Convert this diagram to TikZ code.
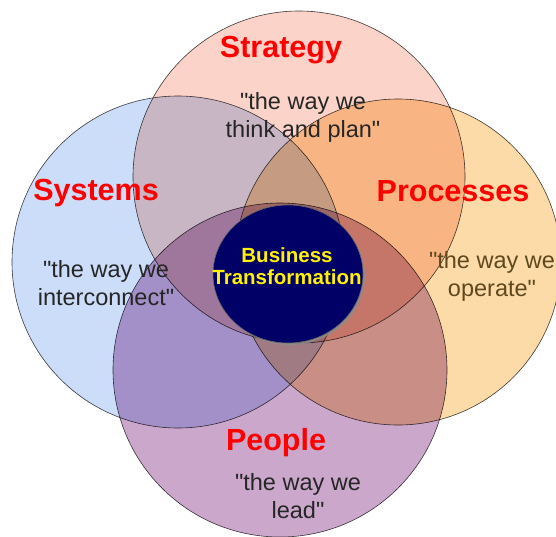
\documentclass[tikz,border=0pt]{standalone}
\usepackage{fontspec}
\setmainfont{Liberation Sans}
\usetikzlibrary{shapes.geometric,shadows}
\definecolor{strategyfill}{RGB}{251,211,200}
\definecolor{systemsfill}{RGB}{204,221,250}
\definecolor{processfill}{RGB}{252,219,168}
\definecolor{peoplefill}{RGB}{204,167,204}
\definecolor{corefill}{RGB}{0,0,102}
\definecolor{operbrown}{RGB}{95,72,30}
\newcommand{\qt}{\textquotedbl} % straight double quote
\tikzset{
    ring/.style={circle, draw=black!75, line width=0.6pt, inner sep=0pt}, % the four big circles
    heading/.style={text=red, anchor=base, font=\bfseries\fontsize{30.5}{30}\selectfont}, % red circle titles
    motto/.style={align=center, text=black!85, font=\fontsize{23.5}{28}\selectfont}, % the quoted lines
}

\begin{document}
\begin{tikzpicture}[x=1pt, y=-1pt]
  \useasboundingbox (0,0) rectangle (556,536);

  % four circles, colours multiply where they overlap
  \begin{scope}[blend group=multiply]
    \node[ring, fill=strategyfill, minimum size=332pt] (strategy)  at (299,177) {};
    \node[ring, fill=systemsfill,  minimum size=332pt] (systems)   at (178,262) {};
    \node[ring, fill=processfill,  minimum size=326pt] (processes) at (398,262) {};
    \node[ring, fill=peoplefill,   minimum size=334pt] (people)    at (280,370) {};
  \end{scope}

  % centre ellipse
  \node[ellipse, draw=black!60, line width=0.6pt, fill=corefill,
      minimum width=150pt, minimum height=138pt,
      drop shadow={shadow xshift=2pt, shadow yshift=-2pt, fill=black!45, opacity=0.8}] (core) at (288,274) {};
  \node[align=center, text=yellow, font=\bfseries\fontsize{20.5}{22}\selectfont] (coreT) at (287,266) {Business\\Transformation};

  % titles
  \node[heading] (strategyT)  at (281,57)  {Strategy};
  \node[heading] (systemsT)   at (96,200)  {Systems};
  \node[heading] (processesT) at (453,201) {Processes};
  \node[heading] (peopleT)    at (276,450) {People};

  % mottos
  \node[motto] (strategyM)  at (303,117) {\qt the way we\\think and plan\qt};
  \node[motto] (systemsM)   at (106,283) {\qt the way we\\interconnect\qt};
  \node[motto, text=operbrown] (processesM) at (492,276) {\qt the way we\\operate\qt};
  \node[motto] (peopleM)    at (298,496) {\qt the way we\\lead\qt};
\end{tikzpicture}
\end{document}
